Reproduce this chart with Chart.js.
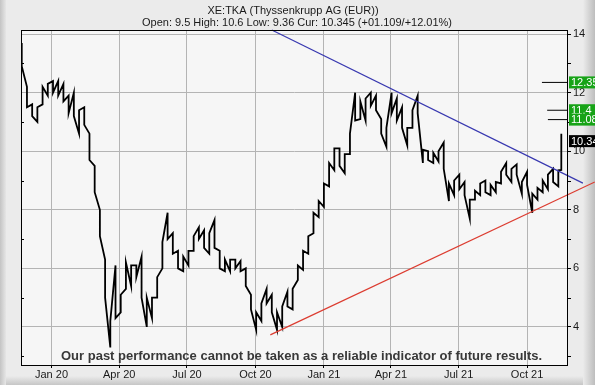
<!DOCTYPE html>
<html>
<head>
<meta charset="utf-8">
<script src="https://cdn.jsdelivr.net/npm/chart.js@4.4.1/dist/chart.umd.min.js"></script>
<style>
    html, body { margin: 0; padding: 0; background: #ebebeb; }
    canvas { display: block; }
</style>
</head>
<body>
<canvas id="canvas" width="595" height="385"></canvas>
<script>
//Data
//weekly low / high, first week starts 22 Nov 2019
var firstWeek = Date.UTC(2019, 10, 22);
var weekLows = [
    12.9, 11.5, 11.2, 11.0, 11.6, 11.9, 12.0, 11.9, 11.7, 11.3,
    11.2, 10.6, 10.9, 9.7, 8.6, 7.1, 5.0, 3.3, 4.3, 4.5,
    5.3, 5.4, 5.7, 5.0, 4.0, 4.3, 5.0, 6.0, 7.0, 6.5,
    6.0, 5.9, 6.1, 6.6, 7.0, 6.7, 6.5, 6.7, 6.0, 5.9,
    5.9, 6.0, 5.9, 5.4, 4.6, 3.9, 4.2, 4.8, 4.5, 3.9,
    4.0, 4.7, 4.6, 5.6, 5.95, 6.5, 7.2, 7.75, 8.1, 8.8,
    9.35, 9.5, 9.25, 9.9, 11.05, 11.1, 11.05, 11.55, 11.4, 10.6,
    10.15, 11.3, 11.05, 10.8, 10.2, 10.8, 11.3, 9.6, 9.7, 9.6,
    9.65, 9.4, 8.3, 8.5, 8.7, 8.5, 7.7, 8.35, 8.5, 8.6,
    8.5, 8.6, 8.9, 9.2, 8.95, 9.2, 8.55, 8.85, 7.9, 8.35,
    8.6, 8.7, 8.95, 8.8
];
var weekHighs = [
    13.7, 12.2, 11.6, 11.5, 12.2, 12.3, 12.4, 12.4, 12.3, 11.9,
    12.0, 11.4, 11.5, 10.6, 9.5, 8.0, 6.3, 4.2, 6.1, 5.1,
    6.2, 6.1, 6.1, 6.4, 5.0, 5.0, 5.7, 6.9, 7.9, 7.2,
    6.6, 6.4, 6.6, 7.1, 7.4, 7.3, 7.2, 7.65, 6.6, 6.3,
    6.3, 6.3, 6.25, 6.0, 5.1, 4.5, 4.8, 5.3, 5.1, 4.5,
    4.7, 5.2, 5.3, 6.1, 6.6, 7.1, 7.9, 8.3, 8.9, 9.6,
    10.1, 10.1, 9.9, 10.6, 12.0, 11.7, 11.8, 12.0, 11.9, 11.1,
    10.8, 12.0, 11.8, 11.5, 10.8, 11.4, 11.9, 10.05, 10.0, 9.95,
    10.0, 10.3, 8.9, 9.0, 9.2, 8.95, 8.35, 8.65, 8.9, 9.0,
    8.85, 8.95, 9.3, 9.6, 9.4, 9.55, 8.95, 9.3, 8.55, 8.75,
    9.0, 9.2, 9.4, 9.35
];
//last session: open 9.5 high 10.6 low 9.36
var lastDay = Date.UTC(2021, 10, 16);
var lastLow = 9.36;
var lastHigh = 10.6;
var current = 10.345;

//trend lines
var resistanceDates = [Date.UTC(2020, 9, 23), Date.UTC(2021, 11, 15)];
var resistanceValues = [14.14, 8.91];
var supportDates = [Date.UTC(2020, 9, 21), Date.UTC(2021, 11, 31)];
var supportValues = [3.73, 8.95];

//target levels on the right
var targetLevels = [12.35, 11.4, 11.08];
var targetStarts = [Date.UTC(2021, 9, 21), Date.UTC(2021, 9, 28), Date.UTC(2021, 9, 29)];

//axes
var xMin = Date.UTC(2019, 10, 21);
var xMax = Date.UTC(2021, 10, 25);
var quarterTicks = [
    Date.UTC(2020, 0, 1), Date.UTC(2020, 3, 1), Date.UTC(2020, 6, 1), Date.UTC(2020, 9, 1),
    Date.UTC(2021, 0, 1), Date.UTC(2021, 3, 1), Date.UTC(2021, 6, 1), Date.UTC(2021, 9, 1)
];
var monthNames = ['Jan', 'Feb', 'Mar', 'Apr', 'May', 'Jun', 'Jul', 'Aug', 'Sep', 'Oct', 'Nov', 'Dec'];
var yMin = 2.7;
var yMax = 14.14;
var priceTicks = [4, 6, 8, 10, 12, 14];
var minorTicks = [3, 5, 7, 9, 11, 13];

var titleText = 'XE:TKA (Thyssenkrupp AG (EUR))';
var quoteText = 'Open: 9.5 High: 10.6 Low: 9.36 Cur: 10.345 (+01.109/+12.01%)';
var disclaimer = 'Our past performance cannot be taken as a reliable indicator of future results.';

var FONT = '"Liberation Sans", Arial, sans-serif';
var DAY = 86400000;

//building the price path: each week goes low->high or high->low,
//ending on the side nearest the next week so the trace stays jagged
var weekDates = weekLows.map(function (v, i) { return firstWeek + i * 7 * DAY; });
weekDates.push(lastDay);
var lows = weekLows.concat([lastLow]);
var highs = weekHighs.concat([lastHigh]);
var pricePath = [];
for (var i = 0; i < lows.length; i++) {
    var mid = (lows[i] + highs[i]) / 2;
    var nextMid = i + 1 < lows.length ? (lows[i + 1] + highs[i + 1]) / 2 : highs[i];
    if (nextMid >= mid) {
        pricePath.push({x: weekDates[i], y: lows[i]}, {x: weekDates[i], y: highs[i]});
    } else {
        pricePath.push({x: weekDates[i], y: highs[i]}, {x: weekDates[i], y: lows[i]});
    }
}

function linePoints(dates, values) {
    return dates.map(function (d, i) { return {x: d, y: values[i]}; });
}

var datasets = [{
    data: pricePath,
    borderColor: '#000',
    borderWidth: 1.8,
    pointRadius: 0,
    order: 3
}, {
    data: linePoints(resistanceDates, resistanceValues),
    borderColor: '#3838b0',
    borderWidth: 1.2,
    pointRadius: 0,
    clip: false,
    order: 1
}, {
    data: linePoints(supportDates, supportValues),
    borderColor: '#dc3c30',
    borderWidth: 1.2,
    pointRadius: 0,
    clip: false,
    order: 1
}];
targetLevels.forEach(function (level, i) {
    datasets.push({
        data: [{x: targetStarts[i], y: level}, {x: xMax, y: level}],
        borderColor: '#000',
        borderWidth: 1,
        pointRadius: 0,
        order: 2
    });
});

//frame and plot background
var backgroundPlugin = {
    id: 'frame',
    beforeDraw: function (chart) {
        var ctx = chart.ctx;
        var w = chart.width, h = chart.height;
        var area = chart.chartArea;
        ctx.save();
        ctx.fillStyle = '#ebebeb';
        ctx.fillRect(0, 0, w, h);
        var g = ctx.createLinearGradient(0, 0, 6, 0);
        g.addColorStop(0, '#c4c4c4');
        g.addColorStop(1, '#e6e6e6');
        ctx.fillStyle = g;
        ctx.fillRect(0, 0, 6, h);
        g = ctx.createLinearGradient(w - 12, 0, w, 0);
        g.addColorStop(0, '#ebebeb');
        g.addColorStop(1, '#bdbdbd');
        ctx.fillStyle = g;
        ctx.fillRect(w - 12, 0, 12, h);
        g = ctx.createLinearGradient(0, h - 9, 0, h);
        g.addColorStop(0, '#ebebeb');
        g.addColorStop(1, '#c6c6c6');
        ctx.fillStyle = g;
        ctx.fillRect(6, h - 9, w - 18, 9);
        ctx.fillStyle = '#f6f6f6';
        ctx.fillRect(area.left, area.top, area.right - area.left, area.bottom - area.top);
        ctx.restore();
    },
    afterDraw: function (chart) {
        var ctx = chart.ctx;
        var area = chart.chartArea;
        var y = chart.scales.y;
        ctx.save();
        //plot border
        ctx.strokeStyle = '#000';
        ctx.lineWidth = 1;
        ctx.strokeRect(area.left + 0.5, area.top + 0.5, area.right - area.left - 1, area.bottom - area.top);
        //minor ticks, out on the right and in on the left
        ctx.beginPath();
        minorTicks.forEach(function (v) {
            var py = Math.round(y.getPixelForValue(v)) + 0.5;
            ctx.moveTo(area.right, py); ctx.lineTo(area.right + 3, py);
            ctx.moveTo(area.left, py); ctx.lineTo(area.left + 3, py);
        });
        ctx.stroke();

        //price boxes
        ctx.font = '11px ' + FONT;
        ctx.textBaseline = 'middle';
        targetLevels.forEach(function (v) {
            var py = y.getPixelForValue(v);
            ctx.fillStyle = '#17a317';
            ctx.fillRect(area.right + 1, py - 6, 40, 12);
            ctx.fillStyle = '#fff';
            ctx.fillText(v.toFixed(2).replace(/0$/, ''), area.right + 3, py + 0.5);
        });
        var cy = y.getPixelForValue(current);
        ctx.fillStyle = '#000';
        ctx.fillRect(area.right + 1, cy - 6, 40, 12);
        ctx.fillStyle = '#fff';
        ctx.fillText(current.toFixed(3).slice(0, 5), area.right + 3, cy + 0.5);

        //titles
        ctx.fillStyle = '#1a1a1a';
        ctx.textAlign = 'center';
        ctx.textBaseline = 'alphabetic';
        ctx.fillText(titleText, 293, 14);
        ctx.fillText(quoteText, 297, 26);

        //disclaimer
        ctx.textAlign = 'left';
        ctx.font = 'bold 13px ' + FONT;
        ctx.fillStyle = '#383838';
        ctx.fillText(disclaimer, 61, 360, 482);
        ctx.restore();
    }
};

//chart
var ctx = document.getElementById('canvas').getContext('2d');
window.myChart = new Chart(ctx, {
    type: 'line',
    data: {datasets: datasets},
    options: {
        responsive: false,
        animation: false,
        layout: {padding: {left: 21, top: 30, right: 0, bottom: 0}},
        plugins: {legend: {display: false}, tooltip: {enabled: false}},
        elements: {line: {tension: 0, borderJoinStyle: 'miter'}},
        scales: {
            x: {
                type: 'linear',
                min: xMin,
                max: xMax,
                afterBuildTicks: function (scale) {
                    scale.ticks = quarterTicks.map(function (t) { return {value: t}; });
                },
                afterFit: function (scale) { scale.height = 20; },
                grid: {color: '#b4b4b4', tickLength: 3, tickColor: '#000'},
                border: {display: false},
                ticks: {
                    color: '#1a1a1a',
                    font: {size: 11, family: FONT},
                    padding: 0,
                    maxRotation: 0,
                    callback: function (value) {
                        var d = new Date(value);
                        return monthNames[d.getUTCMonth()] + ' ' + String(d.getUTCFullYear()).slice(2);
                    }
                }
            },
            y: {
                position: 'right',
                min: yMin,
                max: yMax,
                afterBuildTicks: function (scale) {
                    scale.ticks = priceTicks.map(function (v) { return {value: v}; });
                },
                afterFit: function (scale) { scale.width = 27; },
                grid: {color: '#b4b4b4', tickLength: 3, tickColor: '#000'},
                border: {display: false},
                ticks: {color: '#1a1a1a', font: {size: 11, family: FONT}, padding: 2}
            }
        }
    },
    plugins: [backgroundPlugin]
});
</script>
</body>
</html>
